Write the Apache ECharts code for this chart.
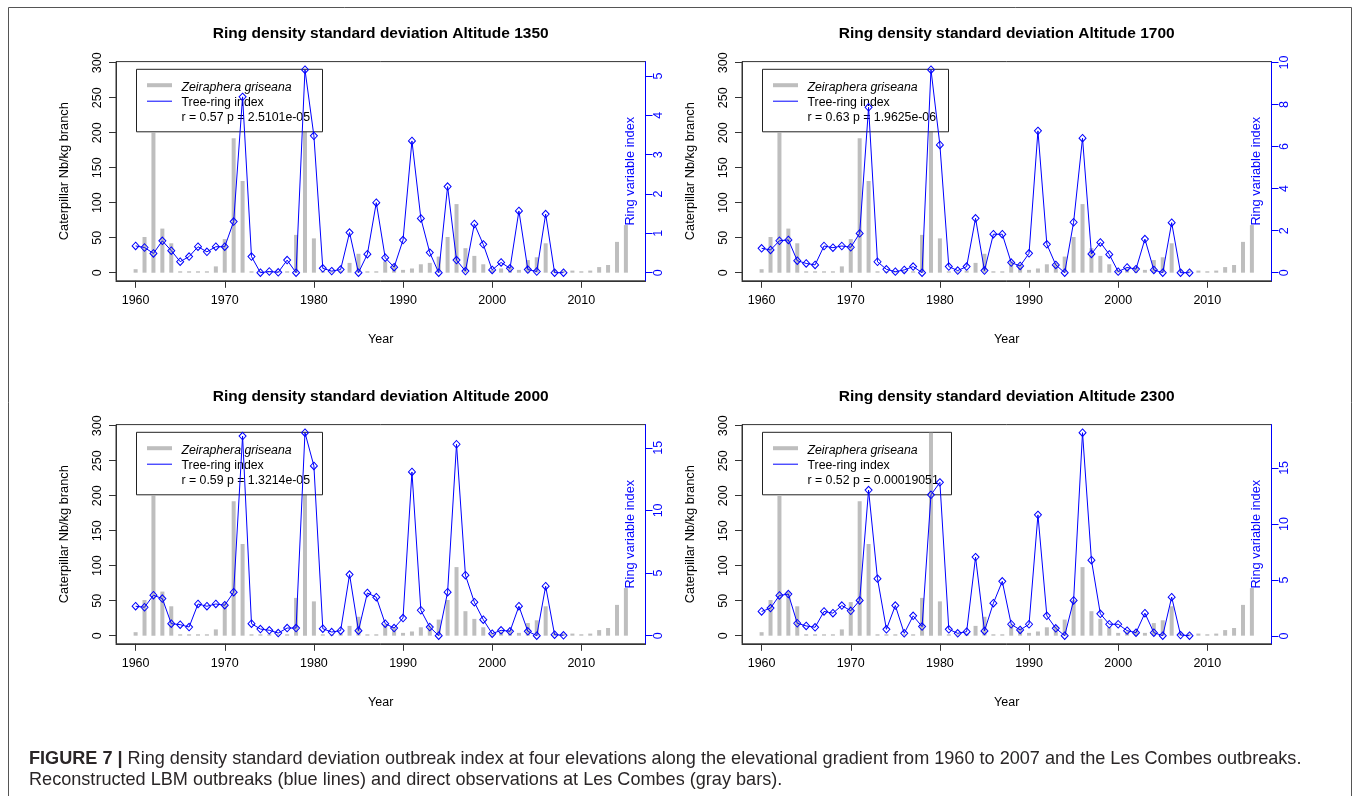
<!DOCTYPE html>
<html><head><meta charset="utf-8">
<script src="https://cdn.jsdelivr.net/npm/echarts@6/dist/echarts.min.js"></script>
<style>html,body{margin:0;padding:0;background:#fff}#c{width:1357px;height:796px}</style>
</head><body><div id="c"></div><script>
// ---------- data ----------
const years = [];
for (let y = 1960; y <= 2015; y++) years.push(y);
const caterpillars = [5,51,200,63,42,2,2,2,2,9, 48,192,131,2,2,2,2,2,54,290, 49,2,2,3,14,27,2,2,16,12, 4,6,12,14,23,51,98,35,24,12, 4,6,8,4,18,22,42,4,3,3, 2,3,8,11,44,68];
const lineYears = [];
for (let y = 1960; y <= 2008; y++) lineYears.push(y);
const ring1350 = [0.68,0.64,0.49,0.81,0.56,0.28,0.41,0.66,0.53,0.66, 0.66,1.30,4.47,0.41,0,0.03,0.01,0.32,0,5.16, 3.48,0.11,0.04,0.08,1.02,0,0.47,1.78,0.38,0.14, 0.83,3.35,1.38,0.51,0,2.19,0.32,0.04,1.24,0.72, 0.07,0.26,0.11,1.57,0.08,0.03,1.49,0,0];
const ring1700 = [1.16,1.08,1.52,1.56,0.57,0.44,0.37,1.27,1.19,1.27, 1.21,1.87,7.87,0.52,0.16,0.05,0.13,0.29,0,9.66, 6.08,0.29,0.10,0.29,2.59,0.10,1.83,1.83,0.48,0.32, 0.92,6.75,1.35,0.37,0,2.40,6.40,0.89,1.44,0.87, 0.05,0.25,0.17,1.60,0.13,0,2.38,0,0];
const ring2000 = [2.35,2.27,3.23,2.96,0.96,0.88,0.69,2.53,2.35,2.53, 2.43,3.47,15.93,0.96,0.53,0.43,0.21,0.61,0.61,16.2, 13.55,0.56,0.29,0.40,4.88,0.40,3.41,3.07,0.96,0.61, 1.41,13.07,2.03,0.69,0,3.47,15.28,4.83,2.67,1.28, 0.16,0.43,0.35,2.35,0.35,0,3.95,0.08,0.03];
const ring2300 = [2.19,2.49,3.62,3.74,1.14,0.90,0.78,2.19,2.04,2.72, 2.25,3.17,13.02,5.12,0.60,2.72,0.24,1.80,0.84,12.60, 13.71,0.60,0.24,0.39,7.04,0.45,2.93,4.88,1.05,0.54, 1.05,10.81,1.80,0.69,0.03,3.17,18.14,6.77,1.98,1.05, 1.05,0.48,0.30,2.04,0.30,0.03,3.47,0.09,0.03];
const altitudes = ['1350','1700','2000','2300'];
const rStats = ['r = 0.57 p = 2.5101e-05','r = 0.63 p = 1.9625e-06','r = 0.59 p = 1.3214e-05','r = 0.52 p = 0.00019051'];
const yearTicks = [1960,1970,1980,1990,2000,2010];
const leftTicks = [0,50,100,150,200,250,300];
const rightTicks1350 = [0,1,2,3,4,5];
const rightTicks1700 = [0,2,4,6,8,10];
const rightTicks2000 = [0,5,10,15];
const rightTicks2300 = [0,5,10,15];

// ---------- layout ----------
const FONT = 'Liberation Sans, Arial, sans-serif';
const panels = [
  {left:116, top:61.6, ring:ring1350, ticks:rightTicks1350, legW:186, legOnTop:true},
  {left:742, top:61.6, ring:ring1700, ticks:rightTicks1700, legW:186, legOnTop:true},
  {left:116, top:424.6, ring:ring2000, ticks:rightTicks2000, legW:186, legOnTop:true},
  {left:742, top:424.6, ring:ring2300, ticks:rightTicks2300, legW:189, legOnTop:false}
];
const GW = 529.5, GH = 219.2;

function ext(arr){ const mn=Math.min(...arr), mx=Math.max(...arr), r=mx-mn; return [mn-0.04*r, mx+0.04*r]; }
const xr = ext(years);
const lr = ext(caterpillars.concat([0]));
const plain = v => String(Math.round(v));

const grid=[], xAxis=[], yAxis=[], series=[], title=[], graphic=[];
panels.forEach((p,i)=>{
  grid.push({left:p.left, top:p.top, width:GW, height:GH, show:true, borderColor:'#333', borderWidth:1, backgroundColor:'transparent'});
  xAxis.push({type:'value', gridIndex:i, min:xr[0], max:xr[1],
    axisLine:{show:true, onZero:false, lineStyle:{color:'#333', width:1}},
    axisTick:{show:true, length:7, customValues:yearTicks, lineStyle:{color:'#333'}},
    axisLabel:{customValues:yearTicks, formatter:plain, margin:13, color:'#000', fontSize:12.5, fontFamily:FONT},
    splitLine:{show:false},
    name:'Year', nameLocation:'middle', nameGap:52, nameTextStyle:{color:'#000', fontSize:12.5, fontFamily:FONT}});
  yAxis.push({type:'value', gridIndex:i, position:'left', min:lr[0], max:lr[1],
    axisLine:{show:true, onZero:false, lineStyle:{color:'#333'}},
    axisTick:{show:true, length:7, customValues:leftTicks, lineStyle:{color:'#333'}},
    axisLabel:{customValues:leftTicks, formatter:plain, rotate:90, margin:12, color:'#000', fontSize:12.5, fontFamily:FONT},
    splitLine:{show:false},
    name:'Caterpillar Nb/kg branch', nameLocation:'middle', nameGap:45, nameRotate:90,
    nameTextStyle:{color:'#000', fontSize:12.8, fontFamily:FONT}});
  const rr = ext(p.ring);
  yAxis.push({type:'value', gridIndex:i, position:'right', min:rr[0], max:rr[1],
    axisLine:{show:true, onZero:false, lineStyle:{color:'#0000ff'}},
    axisTick:{show:true, length:7, customValues:p.ticks, lineStyle:{color:'#0000ff'}},
    axisLabel:{customValues:p.ticks, formatter:plain, rotate:90, margin:7, color:'#0000ff', fontSize:12.5, fontFamily:FONT},
    splitLine:{show:false},
    name:'Ring variable index', nameLocation:'middle', nameGap:-22, nameRotate:90,
    nameTextStyle:{color:'#0000ff', fontSize:12.8, fontFamily:FONT}});
  series.push({type:'bar', name:'Zeiraphera griseana', xAxisIndex:i, yAxisIndex:2*i,
    data:years.map((y,k)=>[y,caterpillars[k]]), barWidth:4, itemStyle:{color:'#bebebe'},
    z:1, silent:true, animation:false});
  series.push({type:'line', name:'Tree-ring index', xAxisIndex:i, yAxisIndex:2*i+1,
    data:lineYears.map((y,k)=>[y,p.ring[k]]), symbol:'diamond', symbolSize:[7,7.5], showSymbol:true, showAllSymbol:true,
    lineStyle:{color:'#0000ff', width:1}, itemStyle:{color:'rgba(255,255,255,0)', borderColor:'#0000ff', borderWidth:1},
    z:3, silent:true, animation:false});
  title.push({text:'Ring density standard deviation Altitude '+altitudes[i], left:p.left+GW/2-5, top:p.top-41, textAlign:'center',
    textStyle:{fontSize:15.5, fontWeight:'bold', color:'#000', fontFamily:FONT}});
  const lx = p.left+20, ly = p.top+7.2, rz = p.legOnTop?2:0.5;
  graphic.push({type:'rect', shape:{x:lx+0.5, y:ly+0.5, width:p.legW, height:62.5}, style:{fill:'#fff', stroke:'#222', lineWidth:1}, z:rz, silent:true});
  graphic.push({type:'line', shape:{x1:lx+11, y1:ly+16.4, x2:lx+36, y2:ly+16.4}, style:{stroke:'#bebebe', lineWidth:4}, z:2.1, silent:true});
  graphic.push({type:'line', shape:{x1:lx+11, y1:ly+32.4, x2:lx+36, y2:ly+32.4}, style:{stroke:'#0000ff', lineWidth:1}, z:2.1, silent:true});
  graphic.push({type:'text', x:lx+45.5, y:ly+18.5, style:{text:'Zeiraphera griseana', font:'italic 12.3px '+FONT, fill:'#000', verticalAlign:'middle'}, z:2.1, silent:true});
  graphic.push({type:'text', x:lx+45.5, y:ly+34, style:{text:'Tree-ring index', font:'12.3px '+FONT, fill:'#000', verticalAlign:'middle'}, z:2.1, silent:true});
  graphic.push({type:'text', x:lx+45.5, y:ly+48.5, style:{text:rStats[i], font:'12.3px '+FONT, fill:'#000', verticalAlign:'middle'}, z:2.1, silent:true});
});
graphic.push({type:'rect', shape:{x:8.5, y:7.5, width:1343, height:820}, style:{fill:'none', stroke:'#555', lineWidth:1}, z:0, silent:true});
title.push({text:'{b|FIGURE 7 |} Ring density standard deviation outbreak index at four elevations along the elevational gradient from 1960 to 2007 and the Les Combes outbreaks.\nReconstructed LBM outbreaks (blue lines) and direct observations at Les Combes (gray bars).',
  left:24, top:743, textStyle:{fontSize:18.1, fontWeight:'normal', color:'#2a2627', fontFamily:FONT, lineHeight:21,
    rich:{b:{fontSize:18.1, fontWeight:'bold', color:'#2a2627', fontFamily:FONT, lineHeight:21}}}});

const chart = echarts.init(document.getElementById('c'), null, {renderer:'canvas'});
chart.setOption({animation:false, backgroundColor:'#fff', title, grid, xAxis, yAxis, series, graphic});
</script></body></html>
